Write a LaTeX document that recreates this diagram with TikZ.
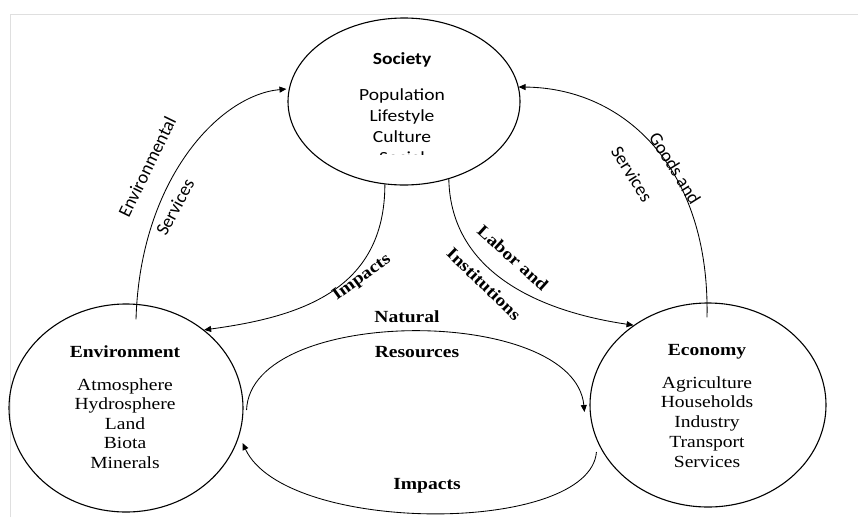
\documentclass[tikz,border=0pt]{standalone}
\usepackage{fontspec}
\setmainfont{Liberation Serif}[FakeStretch=1.15]
\newfontfamily\calib{Carlito}[FakeStretch=1.15]
\newfontfamily\calibr{Carlito}
\usetikzlibrary{shapes.geometric,arrows.meta}
\begin{document}
\begin{tikzpicture}[x=1pt,y=-1pt,
  circ/.style={ellipse,draw,line width=1.1pt,inner sep=0pt},
  conn/.style={line width=0.85pt,-{Triangle[length=7pt,width=6pt]}},
  socttl/.style={font=\calib\bfseries\fontsize{17}{20}\selectfont,anchor=base,inner sep=0pt},
  soctxt/.style={font=\calib\fontsize{17}{20}\selectfont,anchor=base,inner sep=0pt},
  ttl/.style={font=\bfseries\fontsize{17}{20}\selectfont,anchor=base,inner sep=0pt},
  txt/.style={font=\fontsize{17}{20}\selectfont,anchor=base,inner sep=0pt},
  clab/.style={font=\calibr\fontsize{18.5}{21}\selectfont,inner sep=0pt},
  tlab/.style={font=\bfseries\fontsize{17}{20}\selectfont,inner sep=0pt},
  edge/.style={gray!25,line width=0.8pt}]
\useasboundingbox (0,0) rectangle (858,517);
% faint page edges
\draw[edge] (10,517) -- (10,14) -- (858,14);

% main ellipses
\node[circ,minimum width=232pt,minimum height=167pt] (soc) at (404,101.5) {};
\node[circ,minimum width=234pt,minimum height=208pt] (env) at (126,408) {};
\node[circ,minimum width=236pt,minimum height=204pt] (eco) at (708,405) {};

% society text
\node[socttl] (socT) at (402,64) {Society};
\foreach \t [count=\i] in {Population,Lifestyle,Culture}
  \node[soctxt] (socL\i) at (402,{100+21*(\i-1)}) {\t};
\begin{scope}
  \clip (300,140) rectangle (500,154.5);
  \node[soctxt] (socL4) at (402,163) {Social};
\end{scope}

% environment text
\node[ttl] (envT) at (125,357) {Environment};
\foreach \t [count=\i] in {Atmosphere,Hydrosphere,Land,Biota,Minerals}
  \node[txt] (envL\i) at (125,{390+19.5*(\i-1)}) {\t};

% economy text
\node[ttl] (ecoT) at (707,355) {Economy};
\foreach \t [count=\i] in {Agriculture,Households,Industry,Transport,Services}
  \node[txt] (ecoL\i) at (707,{388+19.75*(\i-1)}) {\t};

% connectors
\draw[conn] ([xshift=10pt,yshift=-16pt]env.north) .. controls +(4,-140) and +(-67,6) .. ([xshift=-1pt,yshift=12.5pt]soc.west);
\draw[conn] ([xshift=-1pt,yshift=-15pt]eco.north) .. controls +(3,-148) and +(107,1) .. ([xshift=-2pt,yshift=14.5pt]soc.east);
\draw[conn] (soc.-103) .. controls +(0,106) and +(96,-13) .. (env.45);
\draw[conn] (soc.-60) .. controls +(2,96) and +(-89,-13) .. (eco.133);
\draw[conn] ([xshift=3pt,yshift=-2pt]env.east) .. controls +(4,-105) and +(-10,-107) .. ([xshift=-5pt,yshift=-7pt]eco.west);
\draw[conn] ([xshift=7pt,yshift=-47pt]eco.west) .. controls +(-7,83) and +(43,92) .. ([xshift=-1pt,yshift=-35pt]env.east);

% connector labels
\node[clab,rotate=64] (lEnv1) at (147,167) {Environmental};
\node[clab,rotate=62] (lEnv2) at (175,207) {Services};
\node[clab,rotate=-58] (lGood1) at (675,168) {Goods and};
\node[clab,rotate=-58] (lGood2) at (632,174) {Services};
\node[tlab,rotate=36] (lImp1) at (362,278) {Impacts};
\node[tlab,rotate=-42] (lLab1) at (513,258) {Labor and};
\node[tlab,rotate=-44] (lLab2) at (484,284) {Institutions};
\node[tlab,anchor=base] (lNat1) at (407,322) {Natural};
\node[tlab,anchor=base] (lNat2) at (417,357) {Resources};
\node[tlab,anchor=base] (lImp2) at (427,489) {Impacts};
\end{tikzpicture}
\end{document}
